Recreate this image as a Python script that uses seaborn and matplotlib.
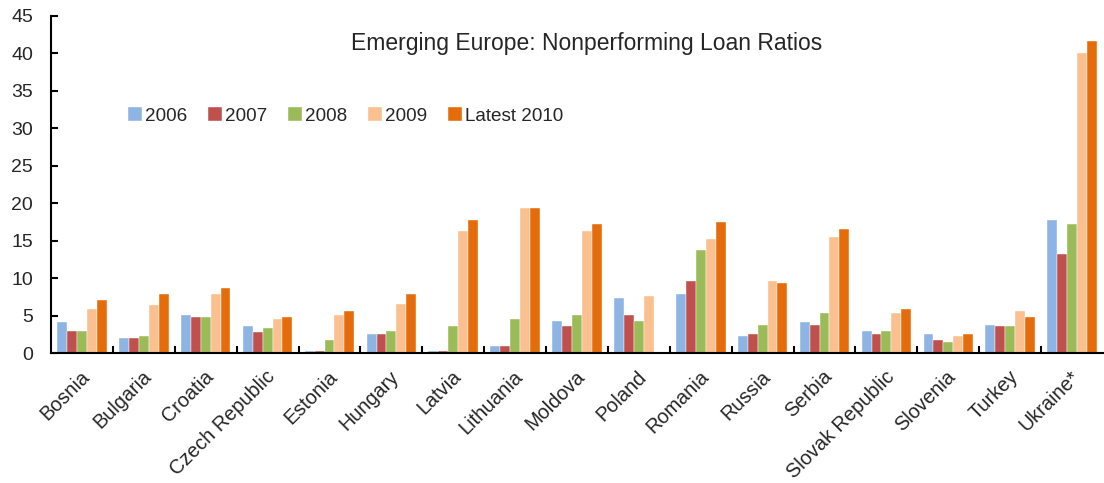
import numpy as np
import pandas as pd
import matplotlib
matplotlib.use("Agg")
import matplotlib.pyplot as plt
import matplotlib.transforms as mtransforms
import seaborn as sns

countries = ["Bosnia", "Bulgaria", "Croatia", "Czech Republic", "Estonia", "Hungary",
             "Latvia", "Lithuania", "Moldova", "Poland", "Romania", "Russia", "Serbia",
             "Slovak Republic", "Slovenia", "Turkey", "Ukraine*"]
series_names = ["2006", "2007", "2008", "2009", "Latest 2010"]
v2006 = [4.1, 2.0, 5.1, 3.6, 0.25, 2.5, 0.25, 1.0, 4.3, 7.4, 7.9, 2.3, 4.1, 3.0, 2.5, 3.8, 17.7]
v2007 = [3.0, 2.0, 4.8, 2.8, 0.25, 2.5, 0.25, 1.0, 3.6, 5.1, 9.6, 2.5, 3.8, 2.5, 1.8, 3.6, 13.2]
v2008 = [3.0, 2.3, 4.8, 3.3, 1.8, 3.0, 3.6, 4.6, 5.1, 4.3, 13.7, 3.8, 5.3, 3.0, 1.5, 3.6, 17.2]
v2009 = [5.9, 6.4, 7.9, 4.6, 5.1, 6.6, 16.3, 19.3, 16.3, 7.6, 15.2, 9.6, 15.5, 5.3, 2.3, 5.6, 40.1]
v2010 = [7.1, 7.9, 8.7, 4.8, 5.6, 7.9, 17.7, 19.3, 17.2, np.nan, 17.5, 9.4, 16.5, 5.9, 2.5, 4.8, 41.6]
colors = ["#8EB4E3", "#C0504D", "#9BBB59", "#FAC090", "#E46C0A"]
title = "Emerging Europe: Nonperforming Loan Ratios"

rows = []
for name, vals in zip(series_names, [v2006, v2007, v2008, v2009, v2010]):
    for c, v in zip(countries, vals):
        rows.append({"country": c, "series": name, "value": v})
df = pd.DataFrame(rows)

sns.set_style("white")
plt.rcParams["font.family"] = ["Liberation Sans", "DejaVu Sans"]

fig = plt.figure(figsize=(11.04, 4.83), dpi=100)
ax = fig.add_axes([51 / 1104, 1 - 353 / 483, 1052 / 1104, 337 / 483])

sns.barplot(data=df, x="country", y="value", hue="series", order=countries,
            hue_order=series_names, palette=colors, width=0.8, saturation=1,
            edgecolor="white", linewidth=0.3, errorbar=None, ax=ax, legend=True)

ax.set_xlim(-0.5, len(countries) - 0.5)
ax.set_ylim(0, 45)
ax.set_yticks(np.arange(0, 46, 5))
ax.set_xlabel("")
ax.set_ylabel("")
for s in ["top", "right"]:
    ax.spines[s].set_visible(False)
for s in ["left", "bottom"]:
    ax.spines[s].set_color("black")
    ax.spines[s].set_linewidth(1.5)

ax.set_xticks(np.arange(len(countries)))
ax.set_xticklabels(countries, rotation=45, ha="right", rotation_mode="anchor", fontsize=14.3)
ax.tick_params(axis="x", length=0, pad=10)
offset = mtransforms.ScaledTranslation(-2 / 100, 0 / 100, fig.dpi_scale_trans)
for lab in ax.get_xticklabels():
    lab.set_transform(lab.get_transform() + offset)
ax.set_xticks(np.arange(len(countries) - 1) + 0.5, minor=True)
ax.tick_params(axis="x", which="minor", direction="in", length=5, width=1.5, color="black", bottom=True)
ax.tick_params(axis="y", direction="in", length=5, width=1.5, color="black", labelsize=14, pad=13, left=True)

ax.text(0.509, 0.917, title, transform=ax.transAxes, ha="center", va="center", fontsize=16.5)

handles, labels = ax.get_legend_handles_labels()
ax.legend(handles, labels, loc="center", bbox_to_anchor=(0.28, 0.703), ncol=5, frameon=False,
          fontsize=13.6, handlelength=0.75, handleheight=0.75, handletextpad=0.15, columnspacing=1.1)

fig.savefig("out.png", dpi=100)
